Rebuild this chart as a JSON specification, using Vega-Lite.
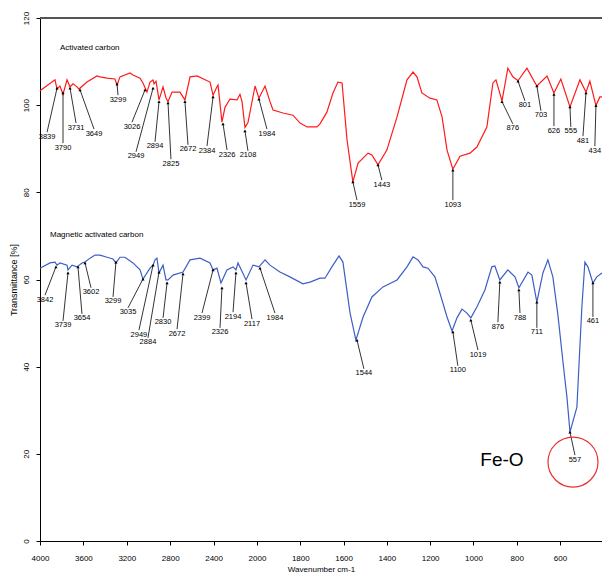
{
  "$schema": "https://vega.github.io/schema/vega-lite/v6.json",
  "width": 562,
  "height": 523,
  "autosize": {"type": "none"},
  "padding": {"left": 40, "top": 18, "right": 0, "bottom": 40},
  "config": {
    "view": {"stroke": null},
    "font": "Liberation Sans",
    "axis": {"grid": false, "labelFontSize": 8, "titleFontWeight": "normal", "tickSize": 4, "tickColor": "black", "domainColor": "black", "labelColor": "black", "titleColor": "black"},
    "axisX": {"labelPadding": 9, "titlePadding": 3, "titleFontSize": 8, "labelFlush": false},
    "axisY": {"labelAngle": 270, "labelAlign": "center", "labelBaseline": "bottom", "labelPadding": 6, "titlePadding": 4, "titleFontSize": 9}
  },
  "datasets": {
    "spec": [
      {"s":"AC","x":4000,"y":103.3},{"s":"AC","x":3862,"y":105.8},{"s":"AC","x":3843,"y":103.7},{"s":"AC","x":3816,"y":104.4},{"s":"AC","x":3788,"y":102.5},{"s":"AC","x":3751,"y":105.8},{"s":"AC","x":3723,"y":104.2},{"s":"AC","x":3696,"y":104.9},{"s":"AC","x":3659,"y":104.2},{"s":"AC","x":3641,"y":103.7},{"s":"AC","x":3567,"y":105.3},{"s":"AC","x":3475,"y":106.7},{"s":"AC","x":3447,"y":106.5},{"s":"AC","x":3382,"y":106.2},{"s":"AC","x":3309,"y":106.0},{"s":"AC","x":3290,"y":104.6},{"s":"AC","x":3263,"y":106.5},{"s":"AC","x":3170,"y":107.4},{"s":"AC","x":3143,"y":106.9},{"s":"AC","x":3078,"y":106.2},{"s":"AC","x":3051,"y":105.1},{"s":"AC","x":3014,"y":103.0},{"s":"AC","x":2986,"y":105.3},{"s":"AC","x":2958,"y":105.8},{"s":"AC","x":2949,"y":104.9},{"s":"AC","x":2931,"y":105.5},{"s":"AC","x":2903,"y":101.2},{"s":"AC","x":2866,"y":104.2},{"s":"AC","x":2839,"y":101.7},{"s":"AC","x":2820,"y":100.8},{"s":"AC","x":2783,"y":103.0},{"s":"AC","x":2710,"y":103.0},{"s":"AC","x":2664,"y":101.2},{"s":"AC","x":2617,"y":106.5},{"s":"AC","x":2553,"y":106.7},{"s":"AC","x":2433,"y":105.3},{"s":"AC","x":2405,"y":102.3},{"s":"AC","x":2369,"y":104.2},{"s":"AC","x":2359,"y":104.6},{"s":"AC","x":2323,"y":96.1},{"s":"AC","x":2295,"y":99.5},{"s":"AC","x":2249,"y":101.4},{"s":"AC","x":2184,"y":101.2},{"s":"AC","x":2157,"y":102.5},{"s":"AC","x":2138,"y":100.8},{"s":"AC","x":2111,"y":94.9},{"s":"AC","x":2083,"y":96.0},{"s":"AC","x":2018,"y":104.4},{"s":"AC","x":1991,"y":101.6},{"s":"AC","x":1963,"y":104.4},{"s":"AC","x":1940,"y":100.8},{"s":"AC","x":1926,"y":98.9},{"s":"AC","x":1880,"y":98.2},{"s":"AC","x":1834,"y":97.7},{"s":"AC","x":1801,"y":95.9},{"s":"AC","x":1769,"y":95.0},{"s":"AC","x":1723,"y":95.0},{"s":"AC","x":1709,"y":95.7},{"s":"AC","x":1677,"y":98.4},{"s":"AC","x":1649,"y":102.8},{"s":"AC","x":1626,"y":105.3},{"s":"AC","x":1607,"y":105.1},{"s":"AC","x":1584,"y":92.0},{"s":"AC","x":1557,"y":82.4},{"s":"AC","x":1533,"y":86.7},{"s":"AC","x":1487,"y":89.0},{"s":"AC","x":1469,"y":88.6},{"s":"AC","x":1441,"y":86.3},{"s":"AC","x":1400,"y":89.7},{"s":"AC","x":1353,"y":97.3},{"s":"AC","x":1307,"y":105.8},{"s":"AC","x":1279,"y":107.6},{"s":"AC","x":1261,"y":106.5},{"s":"AC","x":1238,"y":102.8},{"s":"AC","x":1201,"y":101.6},{"s":"AC","x":1169,"y":101.2},{"s":"AC","x":1145,"y":97.3},{"s":"AC","x":1122,"y":89.7},{"s":"AC","x":1095,"y":85.3},{"s":"AC","x":1062,"y":88.3},{"s":"AC","x":1016,"y":89.0},{"s":"AC","x":984,"y":90.4},{"s":"AC","x":938,"y":95.0},{"s":"AC","x":910,"y":105.1},{"s":"AC","x":896,"y":105.8},{"s":"AC","x":868,"y":101.0},{"s":"AC","x":841,"y":108.5},{"s":"AC","x":818,"y":106.5},{"s":"AC","x":794,"y":105.6},{"s":"AC","x":753,"y":108.5},{"s":"AC","x":707,"y":104.4},{"s":"AC","x":660,"y":106.7},{"s":"AC","x":628,"y":102.8},{"s":"AC","x":596,"y":106.0},{"s":"AC","x":554,"y":99.6},{"s":"AC","x":508,"y":105.8},{"s":"AC","x":480,"y":103.0},{"s":"AC","x":462,"y":105.5},{"s":"AC","x":434,"y":99.9},{"s":"AC","x":416,"y":101.9},{"s":"AC","x":406,"y":101.9},
      {"s":"MAC","x":4000,"y":62.6},{"s":"MAC","x":3908,"y":63.8},{"s":"MAC","x":3862,"y":64.0},{"s":"MAC","x":3843,"y":63.3},{"s":"MAC","x":3816,"y":63.8},{"s":"MAC","x":3751,"y":63.3},{"s":"MAC","x":3742,"y":62.2},{"s":"MAC","x":3705,"y":63.3},{"s":"MAC","x":3659,"y":62.9},{"s":"MAC","x":3613,"y":63.8},{"s":"MAC","x":3585,"y":64.0},{"s":"MAC","x":3539,"y":64.9},{"s":"MAC","x":3493,"y":65.6},{"s":"MAC","x":3447,"y":65.6},{"s":"MAC","x":3382,"y":65.1},{"s":"MAC","x":3327,"y":64.7},{"s":"MAC","x":3300,"y":63.8},{"s":"MAC","x":3263,"y":65.1},{"s":"MAC","x":3217,"y":65.1},{"s":"MAC","x":3143,"y":63.8},{"s":"MAC","x":3078,"y":62.2},{"s":"MAC","x":3051,"y":60.1},{"s":"MAC","x":2986,"y":62.6},{"s":"MAC","x":2958,"y":63.3},{"s":"MAC","x":2940,"y":64.5},{"s":"MAC","x":2922,"y":64.9},{"s":"MAC","x":2903,"y":61.5},{"s":"MAC","x":2866,"y":63.3},{"s":"MAC","x":2839,"y":59.9},{"s":"MAC","x":2820,"y":59.9},{"s":"MAC","x":2774,"y":61.0},{"s":"MAC","x":2682,"y":61.7},{"s":"MAC","x":2617,"y":64.5},{"s":"MAC","x":2525,"y":64.9},{"s":"MAC","x":2433,"y":63.8},{"s":"MAC","x":2405,"y":62.2},{"s":"MAC","x":2369,"y":62.6},{"s":"MAC","x":2332,"y":59.2},{"s":"MAC","x":2277,"y":62.2},{"s":"MAC","x":2221,"y":62.9},{"s":"MAC","x":2194,"y":62.2},{"s":"MAC","x":2175,"y":63.8},{"s":"MAC","x":2101,"y":59.9},{"s":"MAC","x":2037,"y":63.3},{"s":"MAC","x":1991,"y":62.9},{"s":"MAC","x":1963,"y":64.5},{"s":"MAC","x":1940,"y":63.3},{"s":"MAC","x":1894,"y":61.7},{"s":"MAC","x":1848,"y":60.6},{"s":"MAC","x":1788,"y":59.0},{"s":"MAC","x":1755,"y":59.4},{"s":"MAC","x":1709,"y":60.3},{"s":"MAC","x":1686,"y":60.3},{"s":"MAC","x":1654,"y":62.9},{"s":"MAC","x":1621,"y":65.4},{"s":"MAC","x":1603,"y":64.0},{"s":"MAC","x":1570,"y":52.3},{"s":"MAC","x":1543,"y":46.1},{"s":"MAC","x":1510,"y":51.4},{"s":"MAC","x":1469,"y":56.0},{"s":"MAC","x":1418,"y":58.3},{"s":"MAC","x":1353,"y":59.9},{"s":"MAC","x":1307,"y":62.9},{"s":"MAC","x":1279,"y":65.2},{"s":"MAC","x":1256,"y":64.5},{"s":"MAC","x":1233,"y":62.9},{"s":"MAC","x":1210,"y":62.6},{"s":"MAC","x":1178,"y":60.6},{"s":"MAC","x":1155,"y":56.9},{"s":"MAC","x":1122,"y":51.4},{"s":"MAC","x":1099,"y":48.2},{"s":"MAC","x":1076,"y":51.2},{"s":"MAC","x":1053,"y":53.2},{"s":"MAC","x":1030,"y":52.3},{"s":"MAC","x":1012,"y":51.2},{"s":"MAC","x":984,"y":53.7},{"s":"MAC","x":947,"y":57.6},{"s":"MAC","x":915,"y":62.9},{"s":"MAC","x":901,"y":63.1},{"s":"MAC","x":878,"y":59.9},{"s":"MAC","x":841,"y":62.2},{"s":"MAC","x":808,"y":60.6},{"s":"MAC","x":790,"y":58.1},{"s":"MAC","x":748,"y":61.7},{"s":"MAC","x":730,"y":61.0},{"s":"MAC","x":707,"y":54.8},{"s":"MAC","x":679,"y":61.5},{"s":"MAC","x":656,"y":64.5},{"s":"MAC","x":633,"y":60.6},{"s":"MAC","x":610,"y":52.0},{"s":"MAC","x":585,"y":40.5},{"s":"MAC","x":568,"y":33.0},{"s":"MAC","x":554,"y":25.0},{"s":"MAC","x":522,"y":30.7},{"s":"MAC","x":499,"y":53.7},{"s":"MAC","x":485,"y":64.0},{"s":"MAC","x":471,"y":62.9},{"s":"MAC","x":448,"y":59.2},{"s":"MAC","x":430,"y":60.6},{"s":"MAC","x":406,"y":61.5}
    ],
    "ann": [
      {"label":"3839","x":3843,"y":103.9,"x2":3935,"y2":93.8},
      {"label":"3790","x":3788,"y":102.8,"x2":3788,"y2":91.3},
      {"label":"3731","x":3723,"y":103.9,"x2":3668,"y2":95.9},
      {"label":"3649","x":3631,"y":103.5,"x2":3502,"y2":94.5},
      {"label":"3299","x":3290,"y":104.9,"x2":3281,"y2":102.3},
      {"label":"3026","x":3032,"y":103.5,"x2":3152,"y2":96.1},
      {"label":"2949","x":2958,"y":103.9,"x2":3115,"y2":89.3},
      {"label":"2894","x":2903,"y":100.8,"x2":2940,"y2":91.6},
      {"label":"2825","x":2820,"y":100.5,"x2":2793,"y2":87.6},
      {"label":"2672","x":2664,"y":100.8,"x2":2636,"y2":90.9},
      {"label":"2384","x":2405,"y":101.9,"x2":2461,"y2":90.6},
      {"label":"2326","x":2313,"y":95.7,"x2":2276,"y2":89.7},
      {"label":"2108","x":2111,"y":94.1,"x2":2083,"y2":89.5},
      {"label":"1984","x":1991,"y":101.4,"x2":1954,"y2":94.5},
      {"label":"1559","x":1557,"y":82.4,"x2":1538,"y2":78.2},
      {"label":"1443","x":1441,"y":86.3,"x2":1423,"y2":82.8},
      {"label":"1093","x":1095,"y":85.1,"x2":1095,"y2":78.2},
      {"label":"876","x":868,"y":100.8,"x2":818,"y2":95.7},
      {"label":"801","x":794,"y":105.5,"x2":762,"y2":101.0},
      {"label":"703","x":707,"y":104.4,"x2":688,"y2":98.7},
      {"label":"626","x":628,"y":102.5,"x2":628,"y2":95.2},
      {"label":"555","x":554,"y":99.6,"x2":550,"y2":95.0},
      {"label":"481","x":480,"y":102.8,"x2":494,"y2":92.9},
      {"label":"434","x":434,"y":99.9,"x2":439,"y2":90.6},
      {"label":"3842","x":3853,"y":62.9,"x2":3954,"y2":56.4},
      {"label":"3739","x":3742,"y":61.5,"x2":3788,"y2":50.5},
      {"label":"3654","x":3650,"y":62.9,"x2":3613,"y2":52.1},
      {"label":"3602","x":3585,"y":63.8,"x2":3530,"y2":58.1},
      {"label":"3299","x":3300,"y":64.0,"x2":3327,"y2":56.0},
      {"label":"3035","x":3051,"y":60.1,"x2":3189,"y2":53.5},
      {"label":"2949","x":2958,"y":63.3,"x2":3088,"y2":48.4},
      {"label":"2884","x":2903,"y":61.7,"x2":3005,"y2":46.6},
      {"label":"2830","x":2829,"y":59.2,"x2":2866,"y2":51.2},
      {"label":"2672","x":2682,"y":61.3,"x2":2737,"y2":48.6},
      {"label":"2399","x":2405,"y":62.2,"x2":2507,"y2":52.3},
      {"label":"2326","x":2323,"y":58.1,"x2":2341,"y2":48.9},
      {"label":"2194","x":2194,"y":61.5,"x2":2221,"y2":52.5},
      {"label":"2117","x":2101,"y":59.2,"x2":2046,"y2":50.9},
      {"label":"1984","x":1986,"y":62.6,"x2":1917,"y2":52.3},
      {"label":"1544","x":1538,"y":46.1,"x2":1506,"y2":39.5},
      {"label":"1100","x":1095,"y":48.0,"x2":1072,"y2":40.2},
      {"label":"1019","x":1012,"y":50.7,"x2":979,"y2":43.8},
      {"label":"876","x":878,"y":59.4,"x2":887,"y2":50.2},
      {"label":"788","x":790,"y":57.6,"x2":785,"y2":52.3},
      {"label":"711","x":707,"y":54.8,"x2":707,"y2":48.9},
      {"label":"461","x":448,"y":59.2,"x2":448,"y2":51.4},
      {"label":"557","x":554,"y":25.0,"x2":531,"y2":19.7}
    ],
    "names": [
      {"text":"Activated carbon","x":3816,"y":113.1},
      {"text":"Magnetic activated carbon","x":3908,"y":70.2}
    ]
  },
  "layer": [
    {
      "data": {"name": "spec"},
      "transform": [{"filter": "datum.s === 'AC'"}],
      "mark": {"type": "line", "color": "#ff1a1a", "strokeWidth": 1.2},
      "encoding": {
        "x": {"field": "x", "type": "quantitative", "title": "Wavenumber cm-1", "scale": {"domain": [4000, 2000, 406], "range": [0, 217, 562], "nice": false, "zero": false},
          "axis": {"values": [4000,3600,3200,2800,2400,2000,1800,1600,1400,1200,1000,800,600], "format": "d"}},
        "y": {"field": "y", "type": "quantitative", "title": "Transmittance [%]", "scale": {"domain": [0, 120], "nice": false},
          "axis": {"values": [0,20,40,60,80,100,120], "format": "d"}},
        "order": {"field": "x", "type": "quantitative"}
      }
    },
    {
      "data": {"values": [{"y": 120}]},
      "mark": {"type": "rule", "color": "#555555", "strokeWidth": 2},
      "encoding": {
        "y": {"field": "y", "type": "quantitative", "title": "Transmittance [%]", "scale": {"domain": [0, 120], "nice": false}}
      }
    },
    {
      "data": {"name": "spec"},
      "transform": [{"filter": "datum.s === 'MAC'"}],
      "mark": {"type": "line", "color": "#3d5fc4", "strokeWidth": 1.2},
      "encoding": {
        "x": {"field": "x", "type": "quantitative", "title": "Wavenumber cm-1", "scale": {"domain": [4000, 2000, 406], "range": [0, 217, 562], "nice": false, "zero": false}},
        "y": {"field": "y", "type": "quantitative", "title": "Transmittance [%]", "scale": {"domain": [0, 120], "nice": false}},
        "order": {"field": "x", "type": "quantitative"}
      }
    },
    {
      "data": {"name": "ann"},
      "mark": {"type": "rule", "color": "black", "strokeWidth": 0.8},
      "encoding": {
        "x": {"field": "x", "type": "quantitative", "title": "Wavenumber cm-1", "scale": {"domain": [4000, 2000, 406], "range": [0, 217, 562], "nice": false, "zero": false}},
        "y": {"field": "y", "type": "quantitative", "title": "Transmittance [%]", "scale": {"domain": [0, 120], "nice": false}},
        "x2": {"field": "x2", "title": "Wavenumber cm-1"},
        "y2": {"field": "y2", "title": "Transmittance [%]"}
      }
    },
    {
      "data": {"name": "ann"},
      "mark": {"type": "point", "shape": "triangle-up", "filled": true, "color": "black", "size": 10, "opacity": 1},
      "encoding": {
        "x": {"field": "x", "type": "quantitative", "title": "Wavenumber cm-1", "scale": {"domain": [4000, 2000, 406], "range": [0, 217, 562], "nice": false, "zero": false}},
        "y": {"field": "y", "type": "quantitative", "title": "Transmittance [%]", "scale": {"domain": [0, 120], "nice": false}}
      }
    },
    {
      "data": {"name": "ann"},
      "mark": {"type": "text", "fontSize": 7.5, "baseline": "top", "align": "center", "dy": 0.5, "color": "black"},
      "encoding": {
        "x": {"field": "x2", "type": "quantitative", "title": "Wavenumber cm-1", "scale": {"domain": [4000, 2000, 406], "range": [0, 217, 562], "nice": false, "zero": false}},
        "y": {"field": "y2", "type": "quantitative", "title": "Transmittance [%]", "scale": {"domain": [0, 120], "nice": false}},
        "text": {"field": "label"}
      }
    },
    {
      "data": {"name": "names"},
      "mark": {"type": "text", "fontSize": 8, "baseline": "middle", "align": "left", "color": "black"},
      "encoding": {
        "x": {"field": "x", "type": "quantitative", "title": "Wavenumber cm-1", "scale": {"domain": [4000, 2000, 406], "range": [0, 217, 562], "nice": false, "zero": false}},
        "y": {"field": "y", "type": "quantitative", "title": "Transmittance [%]", "scale": {"domain": [0, 120], "nice": false}},
        "text": {"field": "text"}
      }
    },
    {
      "data": {"values": [{"text": "Fe-O", "x": 868, "y": 18.6}]},
      "mark": {"type": "text", "fontSize": 19, "baseline": "middle", "align": "center", "color": "black"},
      "encoding": {
        "x": {"field": "x", "type": "quantitative", "title": "Wavenumber cm-1", "scale": {"domain": [4000, 2000, 406], "range": [0, 217, 562], "nice": false, "zero": false}},
        "y": {"field": "y", "type": "quantitative", "title": "Transmittance [%]", "scale": {"domain": [0, 120], "nice": false}},
        "text": {"field": "text"}
      }
    },
    {
      "data": {"values": [{"x": 540, "y": 18.1}]},
      "mark": {"type": "point", "shape": "circle", "filled": false, "color": "#e83030", "strokeWidth": 1.2, "size": 2500, "opacity": 1},
      "encoding": {
        "x": {"field": "x", "type": "quantitative", "title": "Wavenumber cm-1", "scale": {"domain": [4000, 2000, 406], "range": [0, 217, 562], "nice": false, "zero": false}},
        "y": {"field": "y", "type": "quantitative", "title": "Transmittance [%]", "scale": {"domain": [0, 120], "nice": false}}
      }
    }
  ]
}
